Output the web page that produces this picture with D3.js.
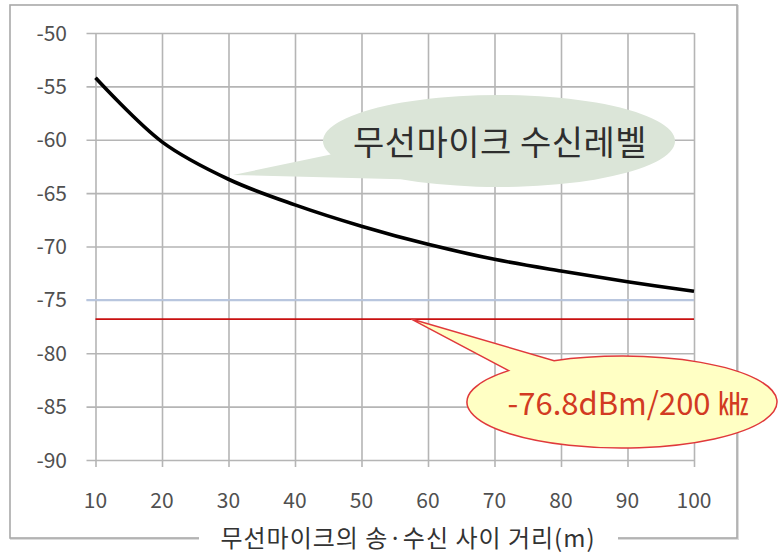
<!DOCTYPE html>
<html><head><meta charset="utf-8">
<script src="https://cdn.jsdelivr.net/npm/d3@7"></script>
<style>body{margin:0;background:#fff}svg{display:block}</style>
</head><body>
<svg id="c" width="779" height="553"></svg>
<script>
const distances = [10,20,30,40,50,60,70,80,90,100];
const levels = [-54.2,-60.2,-63.7,-66.1,-68.1,-69.8,-71.2,-72.3,-73.3,-74.2];
const threshold = -76.8;
const yTicks = [-50,-55,-60,-65,-70,-75,-80,-85,-90];
const xTicks = [10,20,30,40,50,60,70,80,90,100];
const xTitle = "무선마이크의 송·수신 사이 거리(m)";
const levelLabel = "무선마이크 수신레벨";
const thresholdLabel = "-76.8dBm/200 ㎑";

const font = "'Noto Sans CJK KR','Noto Sans',sans-serif";
const svg = d3.select("#c");
const x = d3.scaleLinear().domain([10,100]).range([95.5,694]);
const y = d3.scaleLinear().domain([-90,-50]).range([460,33]);

// outer border
svg.append("rect").attr("x",11).attr("y",6).attr("width",727).attr("height",533)
  .attr("fill","none").attr("stroke","#dcdcdc").attr("stroke-width",2);
svg.append("rect").attr("x",10).attr("y",5).attr("width",727).attr("height",533)
  .attr("fill","#fff").attr("stroke","#a9a9a9").attr("stroke-width",1.6);

// grid via axes
const gy = svg.append("g").attr("transform",`translate(${x(100)},0)`)
  .call(d3.axisLeft(y).tickValues(yTicks).tickSize(x(100)-x(10)+9).tickFormat(""));
gy.select(".domain").remove();
gy.selectAll(".tick line").attr("stroke", d => d===-75 ? "#b9c6de" : "#b5b5b5").attr("stroke-width",1.6);

const gx = svg.append("g").attr("transform",`translate(0,${y(-50)})`)
  .call(d3.axisBottom(x).tickValues(xTicks).tickSize(y(-90)-y(-50)+7).tickFormat(""));
gx.select(".domain").remove();
gx.selectAll(".tick line").attr("stroke","#b5b5b5").attr("stroke-width",1.6);

// redraw -75 line on top of verticals
svg.append("line").attr("x1",x(10)-9).attr("x2",x(100)).attr("y1",y(-75)).attr("y2",y(-75))
  .attr("stroke","#b9c6de").attr("stroke-width",1.6);

// tick labels
svg.append("g").selectAll("text").data(yTicks).join("text")
  .attr("x",67).attr("y",d=>y(d)).attr("dy","0.36em").attr("text-anchor","end")
  .attr("font-family",font).attr("font-size",21).attr("fill","#505050").text(d=>d);
svg.append("g").selectAll("text").data(xTicks).join("text")
  .attr("x",d=>x(d)).attr("y",500).attr("dy","0.36em").attr("text-anchor","middle")
  .attr("font-family",font).attr("font-size",21).attr("fill","#505050").text(d=>d);

// threshold line
svg.append("line").attr("x1",x(10)).attr("x2",x(100)).attr("y1",y(threshold)).attr("y2",y(threshold))
  .attr("stroke","#c81010").attr("stroke-width",1.6);

// level curve
svg.append("path").datum(distances.map((d,i)=>[d,levels[i]]))
  .attr("d", d3.line().x(d=>x(d[0])).y(d=>y(d[1])).curve(d3.curveCatmullRom.alpha(0.5)))
  .attr("fill","none").attr("stroke","#000").attr("stroke-width",3.6);

// callout helper
function callout(tip, cx, cy, rx, ry, a1, a2){
  const p = a => [cx + rx*Math.cos(a*Math.PI/180), cy + ry*Math.sin(a*Math.PI/180)];
  const b1 = p(a1), b2 = p(a2);
  return `M${tip[0]},${tip[1]}L${b1[0]},${b1[1]}A${rx},${ry} 0 1 1 ${b2[0]},${b2[1]}Z`;
}

// green callout
svg.append("path").attr("d", callout([233,175], 499, 141, 176, 46, 163, 124))
  .attr("fill","#dbe5d8");
svg.append("text").attr("x",500).attr("y",143).attr("dy","0.36em").attr("text-anchor","middle")
  .attr("font-family",font).attr("font-size",34).attr("letter-spacing",0.5).attr("fill","#2e2e2e").text(levelLabel);

// yellow callout
svg.append("path").attr("d", callout([x(57.5), y(threshold)], 622, 402, 155, 46, 244, 223))
  .attr("fill","#ffffc4").attr("stroke","#e0393b").attr("stroke-width",1.5);
svg.append("text").attr("x",628).attr("y",404).attr("dy","0.36em").attr("text-anchor","middle")
  .attr("font-family",font).attr("font-size",31).attr("fill","#d23a22").text(thresholdLabel);

// x axis title with gap in border
svg.append("rect").attr("x",199).attr("y",528).attr("width",419).attr("height",20).attr("fill","#fff");
svg.append("text").attr("x",408).attr("y",538).attr("dy","0.36em").attr("text-anchor","middle")
  .attr("font-family",font).attr("font-size",24).attr("letter-spacing",1).attr("fill","#333").text(xTitle);
</script>
</body></html>
